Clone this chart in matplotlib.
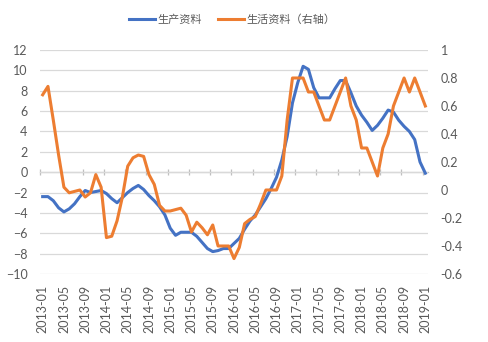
import numpy as np
import pandas as pd
import matplotlib
matplotlib.use("Agg")
import matplotlib.pyplot as plt

plt.rcParams['font.family'] = ['Lato', 'Noto Sans CJK SC', 'DejaVu Sans']
plt.rcParams['font.size'] = 9

# monthly, 2013-01 .. 2019-01
months = pd.date_range("2013-01", "2019-01", freq="MS").strftime("%Y-%m").tolist()

production = [-2.4, -2.4, -2.8, -3.5, -3.9, -3.6, -3.1, -2.4, -1.8, -2.0, -1.9, -1.8,
              -2.1, -2.6, -3.0, -2.5, -2.0, -1.6, -1.3, -1.7, -2.3, -2.8, -3.4, -4.2,
              -5.5, -6.2, -5.9, -5.9, -5.9, -6.3, -6.9, -7.5, -7.8, -7.7, -7.5, -7.5,
              -7.0, -6.5, -5.6, -4.8, -4.2, -3.4, -2.6, -1.6, -0.5, 1.2, 3.5, 6.8,
              8.8, 10.4, 10.1, 8.3, 7.3, 7.3, 7.3, 8.2, 9.0, 9.0, 7.8, 6.5,
              5.6, 4.9, 4.1, 4.6, 5.3, 6.1, 5.9, 5.1, 4.5, 4.0, 3.2, 1.0,
              -0.1]

consumer = [0.68, 0.74, 0.50, 0.25, 0.02, -0.02, -0.01, 0.0, -0.05, -0.02, 0.11, 0.02,
            -0.34, -0.33, -0.22, -0.05, 0.17, 0.23, 0.25, 0.24, 0.11, 0.04, -0.11, -0.15,
            -0.15, -0.14, -0.13, -0.18, -0.30, -0.23, -0.27, -0.32, -0.25, -0.40, -0.40, -0.40,
            -0.49, -0.41, -0.24, -0.21, -0.19, -0.10, 0.0, 0.0, 0.0, 0.10, 0.50, 0.80,
            0.80, 0.80, 0.70, 0.70, 0.60, 0.50, 0.50, 0.60, 0.70, 0.80, 0.60, 0.50,
            0.30, 0.30, 0.20, 0.10, 0.30, 0.40, 0.60, 0.70, 0.80, 0.70, 0.80, 0.70,
            0.60]

left_ticks = list(range(-10, 13, 2))
right_ticks = [-0.6, -0.4, -0.2, 0, 0.2, 0.4, 0.6, 0.8, 1]
right_labels = ['-0.6', '-0.4', '-0.2', '0', '0.2', '0.4', '0.6', '0.8', '1']

grey = '#595959'
blue = '#4472C4'
orange = '#ED7D31'

fig = plt.figure(figsize=(4.89, 3.42), dpi=100)
ax = fig.add_axes([40 / 489, 1 - 274 / 342, 388 / 489, 224 / 342])
ax2 = ax.twinx()

x = np.arange(len(months))
l1, = ax.plot(x, production, color=blue, lw=2.2, solid_joinstyle='round', zorder=3)
l2, = ax2.plot(x, consumer, color=orange, lw=2.2, solid_joinstyle='round', zorder=3)

ax.set_xlim(-0.5, len(months) - 0.5)
ax.set_ylim(-10, 12)
ax2.set_ylim(-0.6, 1)
ax.set_yticks(left_ticks)
ax2.set_yticks(right_ticks)
ax2.set_yticklabels(right_labels)

ax.grid(axis='y', color='#d9d9d9', lw=0.9)
ax.set_axisbelow(True)
for a in (ax, ax2):
    for s in a.spines.values():
        s.set_visible(False)
    a.tick_params(axis='y', length=0, colors=grey, labelsize=9)
ax.tick_params(axis='y', pad=9)
ax2.tick_params(axis='y', pad=9)

# date labels under the plot
ax.set_xticks(x[::4])
ax.set_xticklabels(months[::4], rotation=90)
ax.tick_params(axis='x', length=0, colors=grey, labelsize=9, pad=8)

# category axis drawn on the zero line of the left axis
sec = ax.secondary_xaxis(10 / 22)
sec.set_xticks(np.arange(-0.5, len(months), 4))
sec.set_xticklabels([])
sec.tick_params(axis='x', direction='inout', length=5, color='#bfbfbf', width=0.9)
sec.spines['bottom'].set_color('#bfbfbf')
sec.spines['bottom'].set_linewidth(0.9)

fig.legend([l1, l2], ['生产资料', '生活资料（右轴）'], loc='center',
           bbox_to_anchor=(0.475, 1 - 19 / 342), ncol=2, frameon=False,
           handlelength=2.35, columnspacing=1.4, handletextpad=0.25,
           labelcolor=grey, fontsize=8)

fig.savefig('out.png', dpi=100)
